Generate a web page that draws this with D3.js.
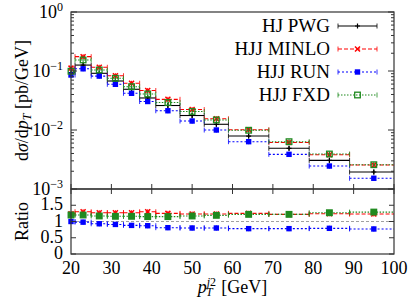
<!DOCTYPE html>
<html>
<head>
<meta charset="utf-8">
<script src="https://cdn.jsdelivr.net/npm/d3@7"></script>
<style>
  body { margin: 0; background: #fff; }
  svg text { font-family: "Liberation Serif", "DejaVu Serif", serif; fill: #000; }
</style>
</head>
<body>
<div id="chart"></div>
<script>
// bins in p_T^{j2} [GeV]
const binLo  = [19, 21, 25, 29, 33, 37, 41, 47, 53, 59, 69, 79, 89];
const binHi  = [21, 25, 29, 33, 37, 41, 47, 53, 59, 69, 79, 89, 101];
const binMid = [20, 23, 27, 31, 35, 39, 44, 50, 56, 64, 74, 84, 95];

// dsigma/dpT [pb/GeV]
const pwg   = [0.094, 0.126, 0.0914, 0.0677, 0.049, 0.0349, 0.026, 0.0176, 0.0125, 0.0079, 0.0049, 0.00306, 0.00194];
const minlo = [0.112, 0.175, 0.1156, 0.0832, 0.0619, 0.0467, 0.0331, 0.0222, 0.0155, 0.0101, 0.00614, 0.00381, 0.00255];
const run   = [0.0855, 0.109, 0.082, 0.0595, 0.0419, 0.0304, 0.0212, 0.0142, 0.0100, 0.00634, 0.00387, 0.00245, 0.00152];
const fxd   = [0.099, 0.154, 0.104, 0.0752, 0.0542, 0.0408, 0.0292, 0.0206, 0.0148, 0.0099, 0.00634, 0.00392, 0.00258];

// ratios
const minloRatio = [1.24, 1.30, 1.27, 1.27, 1.27, 1.30, 1.25, 1.23, 1.23, 1.25, 1.22, 1.24, 1.23];
const runRatio   = [1.00, 0.98, 0.93, 0.91, 0.88, 0.87, 0.81, 0.80, 0.80, 0.78, 0.78, 0.79, 0.77];
const fxdRatio   = [1.20, 1.20, 1.17, 1.16, 1.16, 1.15, 1.15, 1.17, 1.19, 1.22, 1.22, 1.27, 1.29];
const refRatio = 1;

const xTicks = [20, 30, 40, 50, 60, 70, 80, 90, 100];
const yTopMajor = [1e-3, 1e-2, 1e-1, 1];
const yTopExp = [-3, -2, -1, 0];
const ratioTicks = [0, 0.5, 1, 1.5];
const ratioLabels = ['0', '0.5', '1', '1.5'];

const seriesNames = ['HJ PWG', 'HJJ MINLO', 'HJJ RUN', 'HJJ FXD'];

const W = 411, H = 299;
const pLeft = 71, pRight = 394, pTop = 12, pMid = 189, pBottom = 254;

const svg = d3.select('#chart').append('svg')
  .attr('width', W).attr('height', H);

const x = d3.scaleLinear().domain([20, 100]).range([pLeft, pRight]);
const yTop = d3.scaleLog().domain([1e-3, 1]).range([pMid, pTop]);
const yRat = d3.scaleLinear().domain([0, 2]).range([pBottom, pMid]);

svg.append('defs').append('clipPath').attr('id', 'clip')
  .append('rect').attr('x', pLeft).attr('y', 0).attr('width', pRight - pLeft).attr('height', H);

const styles = [
  { color: '#000000', dash: null, marker: 'plus' },
  { color: '#ff0000', dash: '4,2', marker: 'cross' },
  { color: '#0000ff', dash: '2,2', marker: 'square' },
  { color: '#1f8a1f', dash: '1.5,1.5', marker: 'osquare' }
];

function drawMarker(g, type, cx, cy, color, filled) {
  if (type === 'plus') {
    g.append('path').attr('d', `M${cx - 2.5},${cy}h5M${cx},${cy - 2.5}v5`)
      .attr('stroke', color).attr('stroke-width', 1.2).attr('fill', 'none');
  } else if (type === 'cross') {
    g.append('path').attr('d', `M${cx - 2.5},${cy - 2.5}l5,5M${cx - 2.5},${cy + 2.5}l5,-5`)
      .attr('stroke', color).attr('stroke-width', 1.5).attr('fill', 'none');
  } else if (type === 'square') {
    g.append('rect').attr('x', cx - 2.7).attr('y', cy - 2.7).attr('width', 5.4).attr('height', 5.4)
      .attr('fill', color);
  } else {
    g.append('rect').attr('x', cx - 2.8).attr('y', cy - 2.8).attr('width', 5.6).attr('height', 5.6)
      .attr('fill', filled ? color : 'none').attr('stroke', color).attr('stroke-width', 1.3);
  }
}

function drawSeries(values, yScale, st, filled) {
  const lines = svg.append('g').attr('clip-path', 'url(#clip)');
  const marks = svg.append('g');
  values.forEach((v, i) => {
    const yy = yScale(v);
    const x0 = x(binLo[i]), x1 = x(binHi[i]), xm = x(binMid[i]);
    lines.append('line').attr('x1', x0).attr('x2', x1).attr('y1', yy).attr('y2', yy)
      .attr('stroke', st.color).attr('stroke-width', 1.1)
      .attr('stroke-dasharray', st.dash);
    [x0, x1].forEach(xe => {
      lines.append('line').attr('x1', xe).attr('x2', xe).attr('y1', yy - 2.5).attr('y2', yy + 2.5)
        .attr('stroke', st.color).attr('stroke-width', 0.8);
    });
    lines.append('line').attr('x1', xm).attr('x2', xm).attr('y1', yy - 2.5).attr('y2', yy + 2.5)
      .attr('stroke', st.color).attr('stroke-width', 1);
    drawMarker(marks, st.marker, xm, yy, st.color, filled);
  });
}

// ratio reference line
svg.append('line')
  .attr('x1', pLeft).attr('x2', pRight)
  .attr('y1', yRat(refRatio)).attr('y2', yRat(refRatio))
  .attr('stroke', '#a0a0a0').attr('stroke-width', 1).attr('stroke-dasharray', '3,2');

// top panel
[pwg, minlo, run, fxd].forEach((s, i) => drawSeries(s, yTop, styles[i], false));
// ratio panel
[[minloRatio, 1], [runRatio, 2], [fxdRatio, 3]].forEach(([s, k]) => drawSeries(s, yRat, styles[k], true));

// ticks
const axisG = svg.append('g').attr('stroke', '#333').attr('stroke-width', 1);
yTop.ticks().forEach(t => {
  const major = yTopMajor.includes(t);
  const len = major ? 6 : 3;
  const yy = yTop(t);
  axisG.append('line').attr('x1', pLeft).attr('x2', pLeft + len).attr('y1', yy).attr('y2', yy);
  axisG.append('line').attr('x1', pRight).attr('x2', pRight - len).attr('y1', yy).attr('y2', yy);
});
ratioTicks.forEach(t => {
  const yy = yRat(t);
  axisG.append('line').attr('x1', pLeft).attr('x2', pLeft + 5).attr('y1', yy).attr('y2', yy);
  axisG.append('line').attr('x1', pRight).attr('x2', pRight - 5).attr('y1', yy).attr('y2', yy);
});
xTicks.forEach(t => {
  axisG.append('line').attr('x1', x(t)).attr('x2', x(t)).attr('y1', pMid).attr('y2', pMid + 5);
  axisG.append('line').attr('x1', x(t)).attr('x2', x(t)).attr('y1', pMid).attr('y2', pMid - 5);
});

// frames
svg.append('rect').attr('x', pLeft).attr('y', pTop).attr('width', pRight - pLeft).attr('height', pMid - pTop)
  .attr('fill', 'none').attr('stroke', '#333').attr('stroke-width', 1.2);
svg.append('rect').attr('x', pLeft).attr('y', pMid).attr('width', pRight - pLeft).attr('height', pBottom - pMid)
  .attr('fill', 'none').attr('stroke', '#333').attr('stroke-width', 1.2);

// tick labels
xTicks.forEach(t => {
  svg.append('text').attr('x', x(t)).attr('y', 274).attr('text-anchor', 'middle')
    .style('font-size', '18px').text(t);
});
yTopMajor.forEach((t, i) => {
  const txt = svg.append('text').attr('x', 63).attr('y', yTop(t) + 6).attr('text-anchor', 'end')
    .style('font-size', '18px');
  txt.append('tspan').text('10');
  txt.append('tspan').attr('dy', -7).style('font-size', '12px').text(yTopExp[i] < 0 ? '\u2212' + (-yTopExp[i]) : yTopExp[i]);
});
ratioTicks.forEach((t, i) => {
  svg.append('text').attr('x', 63).attr('y', yRat(t) + 5).attr('text-anchor', 'end')
    .style('font-size', '18px').text(ratioLabels[i]);
});

// axis titles
const yl = svg.append('text').attr('transform', `translate(28,${(pTop + pMid) / 2}) rotate(-90)`)
  .attr('text-anchor', 'middle').style('font-size', '18px');
yl.append('tspan').text('d');
yl.append('tspan').style('font-style', 'italic').text('\u03c3');
yl.append('tspan').text('/d');
yl.append('tspan').style('font-style', 'italic').text('p');
yl.append('tspan').attr('dy', 3).style('font-size', '12px').style('font-style', 'italic').text('T');
yl.append('tspan').attr('dy', -3).text(' [pb/GeV]');

svg.append('text').attr('transform', `translate(28,${yRat(1)}) rotate(-90)`)
  .attr('text-anchor', 'middle').style('font-size', '18px').text('Ratio');

const xl = svg.append('text').attr('x', (pLeft + pRight) / 2).attr('y', 293)
  .attr('text-anchor', 'middle').style('font-size', '18px');
xl.append('tspan').style('font-style', 'italic').text('p');
xl.append('tspan').attr('dy', -7).style('font-size', '12px').style('font-style', 'italic').text('j');
xl.append('tspan').style('font-size', '12px').text('2');
xl.append('tspan').attr('dx', -10).attr('dy', 10).style('font-size', '12px').style('font-style', 'italic').text('T');
xl.append('tspan').attr('dx', 4).attr('dy', -3).text(' [GeV]');

// legend
const legY = [26, 49, 72, 95];
seriesNames.forEach((name, i) => {
  const st = styles[i];
  const yy = legY[i];
  svg.append('text').attr('x', 330).attr('y', yy + 6).attr('text-anchor', 'end')
    .style('font-size', '19px').text(name);
  const g = svg.append('g');
  g.append('line').attr('x1', 338).attr('x2', 377).attr('y1', yy).attr('y2', yy)
    .attr('stroke', st.color).attr('stroke-width', 1.1).attr('stroke-dasharray', st.dash);
  [338, 377].forEach(xe => {
    g.append('line').attr('x1', xe).attr('x2', xe).attr('y1', yy - 2.5).attr('y2', yy + 2.5)
      .attr('stroke', st.color).attr('stroke-width', 0.8);
  });
  drawMarker(g, st.marker, 357.5, yy, st.color, false);
});
</script>
</body>
</html>
